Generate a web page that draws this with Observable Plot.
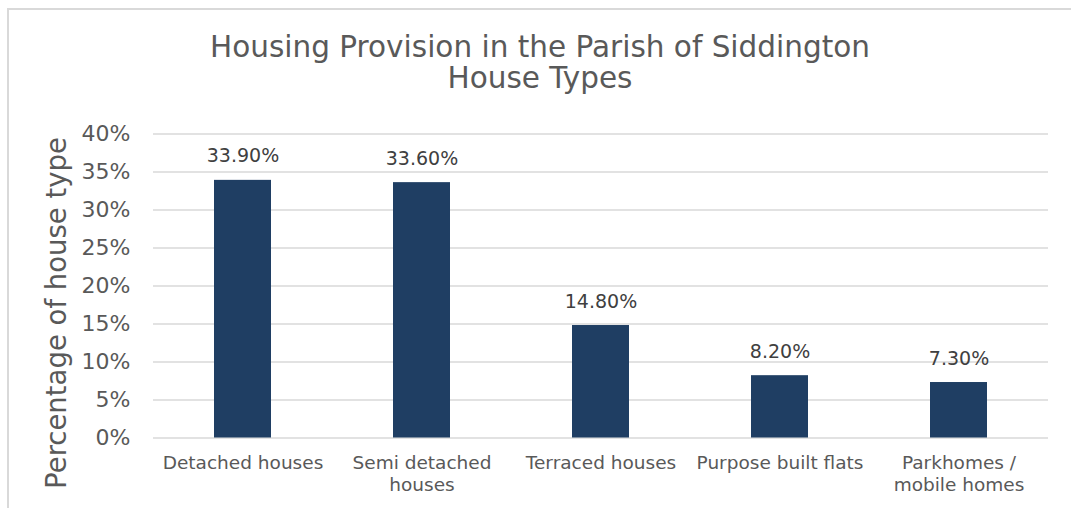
<!DOCTYPE html>
<html>
<head>
<meta charset="utf-8">
<script src="https://cdn.jsdelivr.net/npm/d3@7"></script>
<script src="https://cdn.jsdelivr.net/npm/@observablehq/plot@0.6"></script>
<style>
  html, body { margin: 0; padding: 0; background: #fff; overflow: hidden; }
  body { width: 1071px; height: 508px; position: relative; font-family: "DejaVu Sans", sans-serif; }
  #frame { position: absolute; left: 7px; top: 8px; width: 1100px; height: 540px; border: 2px solid #D9D9D9; box-sizing: border-box; }
  #title { position: absolute; left: 7px; width: 1066px; top: 32px; text-align: center; font-size: 29.5px; line-height: 31px; color: #595959; }
  #chart { position: absolute; left: 0; top: 0; }
</style>
</head>
<body>
<div id="frame"></div>
<div id="title">Housing Provision in the Parish of Siddington<br>House Types</div>
<div id="chart"></div>
<script>
const categories = ["Detached houses", "Semi detached\nhouses", "Terraced houses", "Purpose built flats", "Parkhomes /\nmobile homes"];
const values = [33.9, 33.6, 14.8, 8.2, 7.3];
const yTicks = [0, 5, 10, 15, 20, 25, 30, 35, 40];
const yLabel = "Percentage of house type";

const data = categories.map((c, i) => ({category: c, value: values[i]}));

const plot = Plot.plot({
  width: 1071,
  height: 508,
  marginTop: 133.5,
  marginBottom: 70.5,
  marginLeft: 153,
  marginRight: 23,
  style: {background: "transparent", fontFamily: "DejaVu Sans, sans-serif", color: "#595959"},
  x: {domain: categories, paddingInner: 0.68, paddingOuter: 0.34, label: null},
  y: {domain: [0, 40], label: null},
  marks: [
    Plot.ruleY(yTicks, {stroke: "#D9D9D9", strokeWidth: 1.5}),
    Plot.barY(data, {x: "category", y: "value", fill: "#1F3E63"}),
    Plot.text(data, {x: "category", y: "value", text: d => d.value.toFixed(2) + "%", dy: -24, fontSize: 19, fill: "#404040"}),
    Plot.axisY({ticks: yTicks, tickFormat: d => d + "%", tickSize: 0, tickPadding: 23, fontSize: 22, label: null, fill: "#595959"}),
    Plot.axisX({tickSize: 0, tickPadding: 15, fontSize: 18.5, label: null, lineHeight: 1.2, fill: "#595959"}),
    Plot.text([yLabel], {frameAnchor: "left", textAnchor: "middle", rotate: -90, dx: -96, dy: 27, fontSize: 27.5, fill: "#595959"})
  ]
});
document.getElementById("chart").appendChild(plot);
</script>
</body>
</html>
